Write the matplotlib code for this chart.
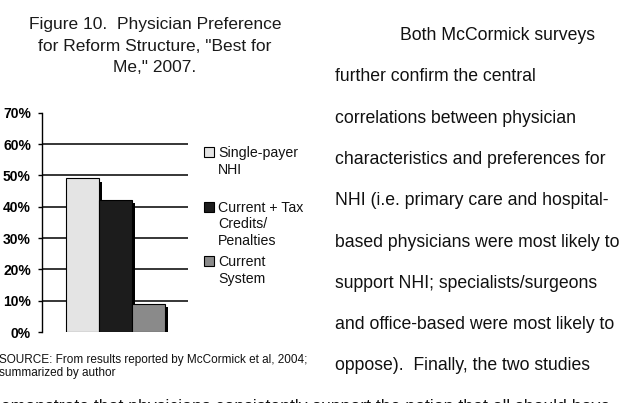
import matplotlib
matplotlib.use("Agg")
import matplotlib.pyplot as plt
import matplotlib.patheffects as pe
from matplotlib.patches import Rectangle

plt.rcParams['font.family'] = ['Liberation Sans', 'DejaVu Sans']

# Chart data
series = ["Single-payer\nNHI", "Current + Tax\nCredits/\nPenalties", "Current\nSystem"]
values = [49, 42, 9]
colors = ["#e4e4e4", "#1c1c1c", "#8a8a8a"]
yticks = [0, 10, 20, 30, 40, 50, 60, 70]

title_lines = ["Figure 10.  Physician Preference",
               "for Reform Structure, \"Best for",
               "Me,\" 2007."]
source_lines = ["SOURCE: From results reported by McCormick et al, 2004;",
                "summarized by author"]
body_lines = ["Both McCormick surveys",
              "further confirm the central",
              "correlations between physician",
              "characteristics and preferences for",
              "NHI (i.e. primary care and hospital-",
              "based physicians were most likely to",
              "support NHI; specialists/surgeons",
              "and office-based were most likely to",
              "oppose).  Finally, the two studies",
              "demonstrate that physicians consistently support the notion that all should have"]

W, H = 640, 403
fig = plt.figure(figsize=(W / 100, H / 100), dpi=100)


def fx(px):
    return px / W


def fy(py):
    return 1 - py / H


# axes in pixel layout of the scanned page
ax = fig.add_axes([fx(42), fy(332), (188 - 42) / W, (332 - 112.7) / H])
x = list(range(len(values)))
bars = ax.bar(x, values, width=1, color=colors, edgecolor="black",
              linewidth=0.8, zorder=3)
for b in bars:
    b.set_path_effects([pe.SimplePatchShadow(offset=(2.2, -2.2),
                                             shadow_rgbFace="black", alpha=1),
                        pe.Normal()])

for v in yticks[1:-1]:
    ax.axhline(v, color="black", lw=1.1, zorder=1)

ax.set_ylim(yticks[0], yticks[-1])
ax.set_xlim(-0.5 - 24 / 33, -0.5 - 24 / 33 + 146 / 33)
ax.set_yticks(yticks)
ax.set_yticklabels([f"{v}%" for v in yticks], fontsize=10, fontweight="bold")
ax.set_xticks([])
ax.tick_params(axis="y", direction="out", length=3, width=1, pad=5)
for s in ["top", "right", "bottom"]:
    ax.spines[s].set_visible(False)
ax.spines["left"].set_linewidth(1)
ax.patch.set_visible(False)

# legend drawn by hand to keep Excel-like placement
leg_first = [157, 212, 266]
for lab, col, yb in zip(series, colors, leg_first):
    fig.add_artist(Rectangle((fx(204), fy(yb)), 10 / W, 10 / H,
                             transform=fig.transFigure, facecolor=col,
                             edgecolor="black", lw=0.8))
    for i, line in enumerate(lab.split("\n")):
        fig.text(fx(218), fy(yb + i * 16.5), line, fontsize=10.2,
                 va="baseline", ha="left", color="#111111")

# title
for i, line in enumerate(title_lines):
    fig.text(fx(155), fy(29.3 + i * 21.5), line, fontsize=12.5,
             ha="center", va="baseline", color="#1a1a1a")

# source note
for i, line in enumerate(source_lines):
    fig.text(fx(-1), fy(363.3 + i * 12.7), line, fontsize=8.5,
             ha="left", va="baseline", color="#111111")

# body text column
for i, line in enumerate(body_lines):
    yb = 40 + i * 41.3
    if i == 0:
        fig.text(fx(400), fy(yb), line, fontsize=12.7, ha="left",
                 va="baseline", color="#111111")
    elif i == len(body_lines) - 1:
        fig.text(fx(610), fy(yb), line, fontsize=12.7, ha="right",
                 va="baseline", color="#111111")
    else:
        fig.text(fx(335), fy(yb), line, fontsize=12.7, ha="left",
                 va="baseline", color="#111111")

fig.savefig("out.png", dpi=100)
